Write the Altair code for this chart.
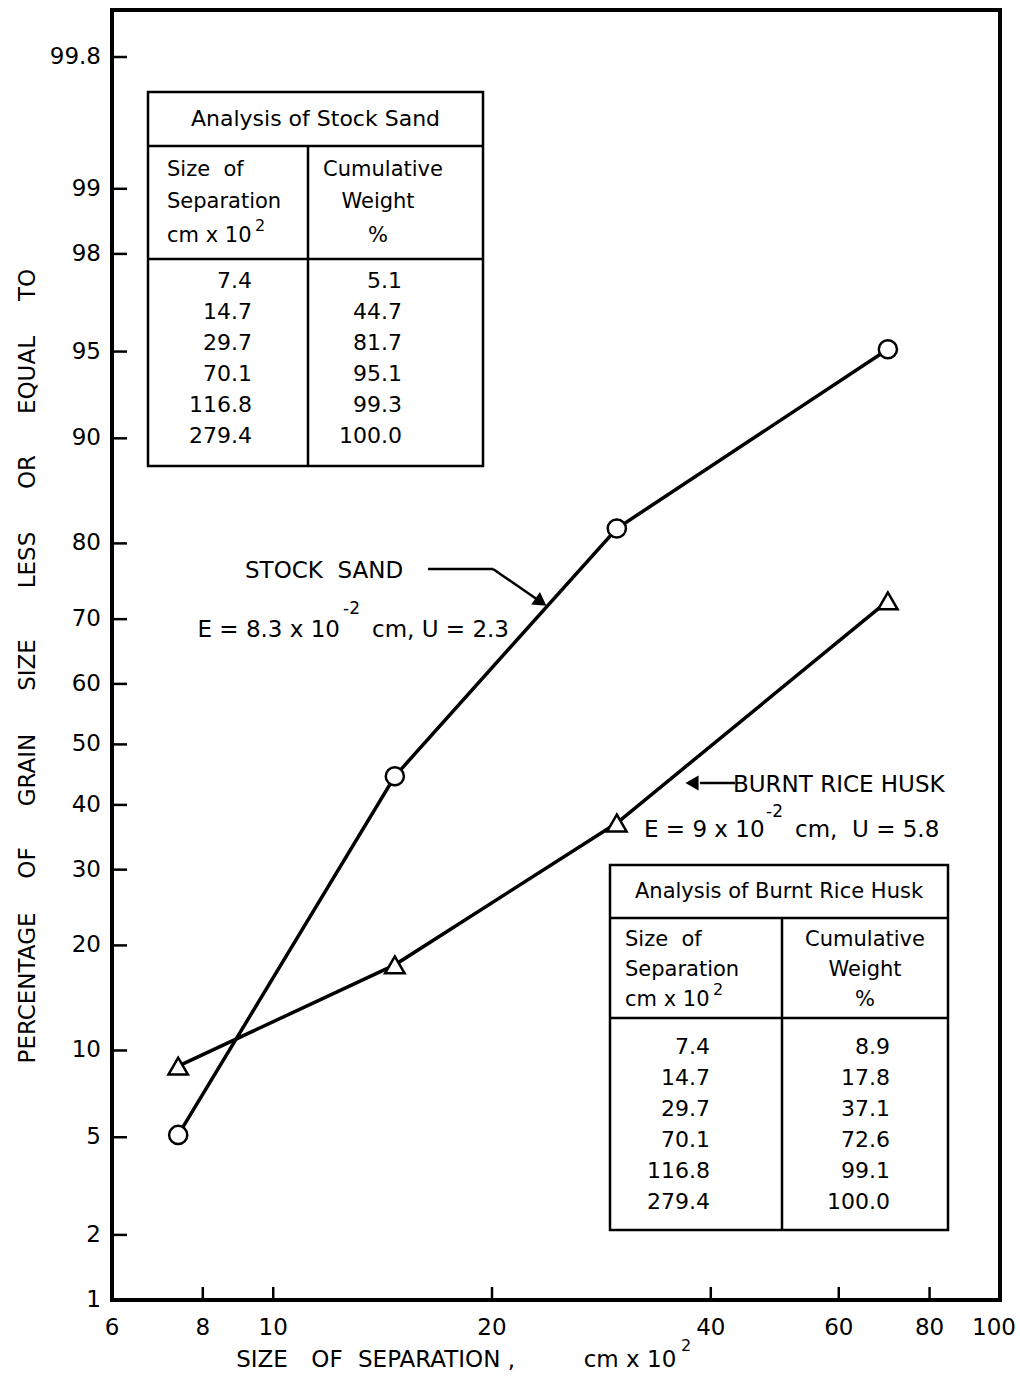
import altair as alt
import pandas as pd
from statistics import NormalDist

# Sieve analysis: size of separation (cm x 10^2) and cumulative weight passing (%)
sizes = [7.4, 14.7, 29.7, 70.1, 116.8, 279.4]
size_text = ["7.4", "14.7", "29.7", "70.1", "116.8", "279.4"]
sand_pct = [5.1, 44.7, 81.7, 95.1, 99.3, 100.0]
sand_text = ["5.1", "44.7", "81.7", "95.1", "99.3", "100.0"]
husk_pct = [8.9, 17.8, 37.1, 72.6, 99.1, 100.0]
husk_text = ["8.9", "17.8", "37.1", "72.6", "99.1", "100.0"]

x_ticks = [6, 8, 10, 20, 40, 60, 80, 100]
x_tick_labels = ["6", "8", "10", "20", "40", "60", "80", "100"]
y_ticks = [1, 2, 5, 10, 20, 30, 40, 50, 60, 70, 80, 90, 95, 98, 99, 99.8]
y_tick_labels = ["1", "2", "5", "10", "20", "30", "40", "50", "60", "70", "80", "90",
                 "95", "98", "99", "99.8"]

# plot area geometry (page pixels)
LEFT, TOP = 112, 10
W, H = 888, 1290
FONT = "DejaVu Sans"
NB = "\u00a0"


def px(x):
    return x - LEFT


def py(y):
    return y - TOP


# probability (normal-quantile) vertical scale, logarithmic horizontal scale
probit = NormalDist().inv_cdf
Z = "quantileNormal(datum.pct / 100)"
x_scale = alt.Scale(type="log", domain=[6, 100])
y_scale = alt.Scale(domain=[probit(0.01), 3.075])


def X(field):
    return alt.X(field, scale=x_scale, axis=None)


def Y(field):
    return alt.Y(field, scale=y_scale, axis=None)


curves = pd.DataFrame({
    "series": ["sand"] * len(sizes) + ["husk"] * len(sizes),
    "size": sizes * 2,
    "pct": sand_pct + husk_pct,
})
base = alt.Chart(curves).transform_filter("datum.size <= 100").transform_calculate(z=Z)

lines = base.mark_line(color="black", strokeWidth=3.5).encode(
    x=X("size:Q"), y=Y("z:Q"), detail="series:N")
circles = base.transform_filter("datum.series == 'sand'").mark_point(
    shape="circle", size=330, filled=True, fill="white", stroke="black",
    strokeWidth=2.5, opacity=1
).encode(x=X("size:Q"), y=Y("z:Q"))
triangles = base.transform_filter("datum.series == 'husk'").mark_point(
    shape="triangle-up", size=380, filled=True, fill="white", stroke="black",
    strokeWidth=2.5, opacity=1
).encode(x=X("size:Q"), y=Y("z:Q"))

# inward tick marks and tick labels
ytick_df = pd.DataFrame({"pct": y_ticks, "lab": y_tick_labels})
xtick_df = pd.DataFrame({"t": x_ticks, "lab": x_tick_labels})

ytick_marks = alt.Chart(ytick_df).transform_calculate(z=Z).mark_rule(
    color="black", strokeWidth=2.5
).encode(y=Y("z:Q"), x=alt.value(0), x2=alt.value(15))
ytick_labels = alt.Chart(ytick_df).transform_calculate(z=Z).mark_text(
    font=FONT, fontSize=23, align="right", baseline="middle", color="black"
).encode(y=Y("z:Q"), x=alt.value(-11), text="lab:N")

xtick_marks = alt.Chart(xtick_df).transform_filter("datum.t > 6 && datum.t < 100").mark_rule(
    color="black", strokeWidth=2.5
).encode(x=X("t:Q"), y=alt.value(H - 13), y2=alt.value(H))
xtick_labels = alt.Chart(xtick_df).transform_filter("datum.t < 100").mark_text(
    font=FONT, fontSize=23, align="center", baseline="middle", color="black"
).encode(x=X("t:Q"), y=alt.value(H + 28), text="lab:N")
# the last label sits just inside the right edge of the page
xtick_last = alt.Chart(xtick_df).transform_filter("datum.t >= 100").mark_text(
    font=FONT, fontSize=23, align="right", baseline="middle", color="black", dx=16
).encode(x=X("t:Q"), y=alt.value(H + 28), text="lab:N")

one = pd.DataFrame({"k": [0]})


def label(text, x, y, size=22, align="left", angle=0):
    return alt.Chart(one).mark_text(
        text=text, font=FONT, fontSize=size, align=align, baseline="middle",
        angle=angle, color="black"
    ).encode(x=alt.value(px(x)), y=alt.value(py(y)))


def seg(x1, y1, x2, y2, w=2.5):
    return alt.Chart(one).mark_rule(color="black", strokeWidth=w).encode(
        x=alt.value(px(x1)), y=alt.value(py(y1)), x2=alt.value(px(x2)), y2=alt.value(py(y2)))


def box(x1, y1, x2, y2):
    return alt.Chart(one).mark_rect(fill="white", stroke="black", strokeWidth=2.5).encode(
        x=alt.value(px(x1)), y=alt.value(py(y1)), x2=alt.value(px(x2)), y2=alt.value(py(y2)))


def arrowhead(x, y, angle):
    return alt.Chart(one).mark_point(
        shape="triangle-right", size=230, filled=True, color="black", opacity=1, angle=angle
    ).encode(x=alt.value(px(x)), y=alt.value(py(y)))


def table(title, values, left, right, top, r1, r2, bottom, col, t_size,
          head_x, head_y, head_r_x, sup, row0, dy, left_anchor, right_anchor):
    layers = [
        box(left, top, right, bottom),
        seg(left, r1, right, r1),
        seg(left, r2, right, r2),
        seg(col, r1, col, bottom),
        label(title, (left + right) / 2, (top + r1) / 2, size=t_size, align="center"),
        label("Size" + NB * 2 + "of", head_x, head_y[0], size=21),
        label("Separation", head_x, head_y[1], size=21),
        label("cm x 10", head_x, head_y[2], size=21),
        label("2", sup[0], sup[1], size=16),
        label("Cumulative", head_r_x[0], head_y[0], size=21, align="center"),
        label("Weight", head_r_x[1], head_y[1], size=21, align="center"),
        label("%", head_r_x[1], head_y[2], size=21, align="center"),
    ]
    rows = pd.DataFrame({"row": range(len(size_text)), "size": size_text, "pct": values})
    cells = alt.Chart(rows).transform_calculate(ry=f"{py(row0)} + datum.row * {dy}")
    layers.append(cells.mark_text(font=FONT, fontSize=22, align="right", baseline="middle",
                                  color="black").encode(
        x=alt.value(px(left_anchor)), y=alt.Y("ry:Q", scale=None), text="size:N"))
    layers.append(cells.mark_text(font=FONT, fontSize=22, align="right", baseline="middle",
                                  color="black").encode(
        x=alt.value(px(right_anchor)), y=alt.Y("ry:Q", scale=None), text="pct:N"))
    return layers


sand_table = table("Analysis of Stock Sand", sand_text, 148, 483, 92, 146, 259, 466, 308, 22,
                   167, [170, 202, 236], [383, 378], (255, 226), 281, 31, 252, 402)
husk_table = table("Analysis of Burnt Rice Husk", husk_text, 610, 948, 865, 918, 1018, 1230, 782, 21,
                   625, [940, 970, 1000], [865, 865], (713, 990), 1047, 31, 710, 890)

# rotated vertical-axis title, one word at a time
y_title = [
    ("PERCENTAGE", 988), ("OF", 863), ("GRAIN", 770), ("SIZE", 665),
    ("LESS", 560), ("OR", 472), ("EQUAL", 375), ("TO", 285),
]

annotations = [
    # stock sand callout
    label("STOCK" + NB * 2 + "SAND", 245, 571, size=23),
    seg(428, 569, 493, 569),
    seg(493, 569, 538, 600),
    arrowhead(541, 602, 35),
    label("E = 8.3 x 10", 340, 630, size=23, align="right"),
    label("-2", 343, 609, size=17),
    label("cm, U = 2.3", 372, 630, size=23),
    # burnt rice husk callout
    label("BURNT RICE HUSK", 733, 785, size=23),
    seg(700, 783, 735, 783),
    arrowhead(692, 783, 180),
    label("E = 9 x 10", 644, 830, size=23),
    label("-2", 766, 812, size=17),
    label("cm," + NB * 2 + "U = 5.8", 795, 830, size=23),
    # horizontal-axis title
    label("SIZE", 262, 1360, size=23, align="center"),
    label("OF", 327, 1360, size=23, align="center"),
    label("SEPARATION" + NB + ",", 358, 1360, size=23),
    label("cm x 10", 630, 1360, size=23, align="center"),
    label("2", 681, 1346, size=16),
] + [label(w, 28, yy, size=23, align="center", angle=270) for w, yy in y_title]

chart = alt.layer(
    *sand_table, *husk_table,
    lines, circles, triangles, ytick_marks, ytick_labels, xtick_marks, xtick_labels, xtick_last,
    *annotations,
).properties(
    width=W, height=H,
    autosize=alt.AutoSizeParams(type="none"),
    padding={"left": LEFT, "top": TOP, "right": 1020 - LEFT - W, "bottom": 1382 - TOP - H},
    background="white",
).configure_view(
    stroke="black", strokeWidth=4
)

chart.save("out.html", embed_options={"renderer": "svg", "actions": False})
